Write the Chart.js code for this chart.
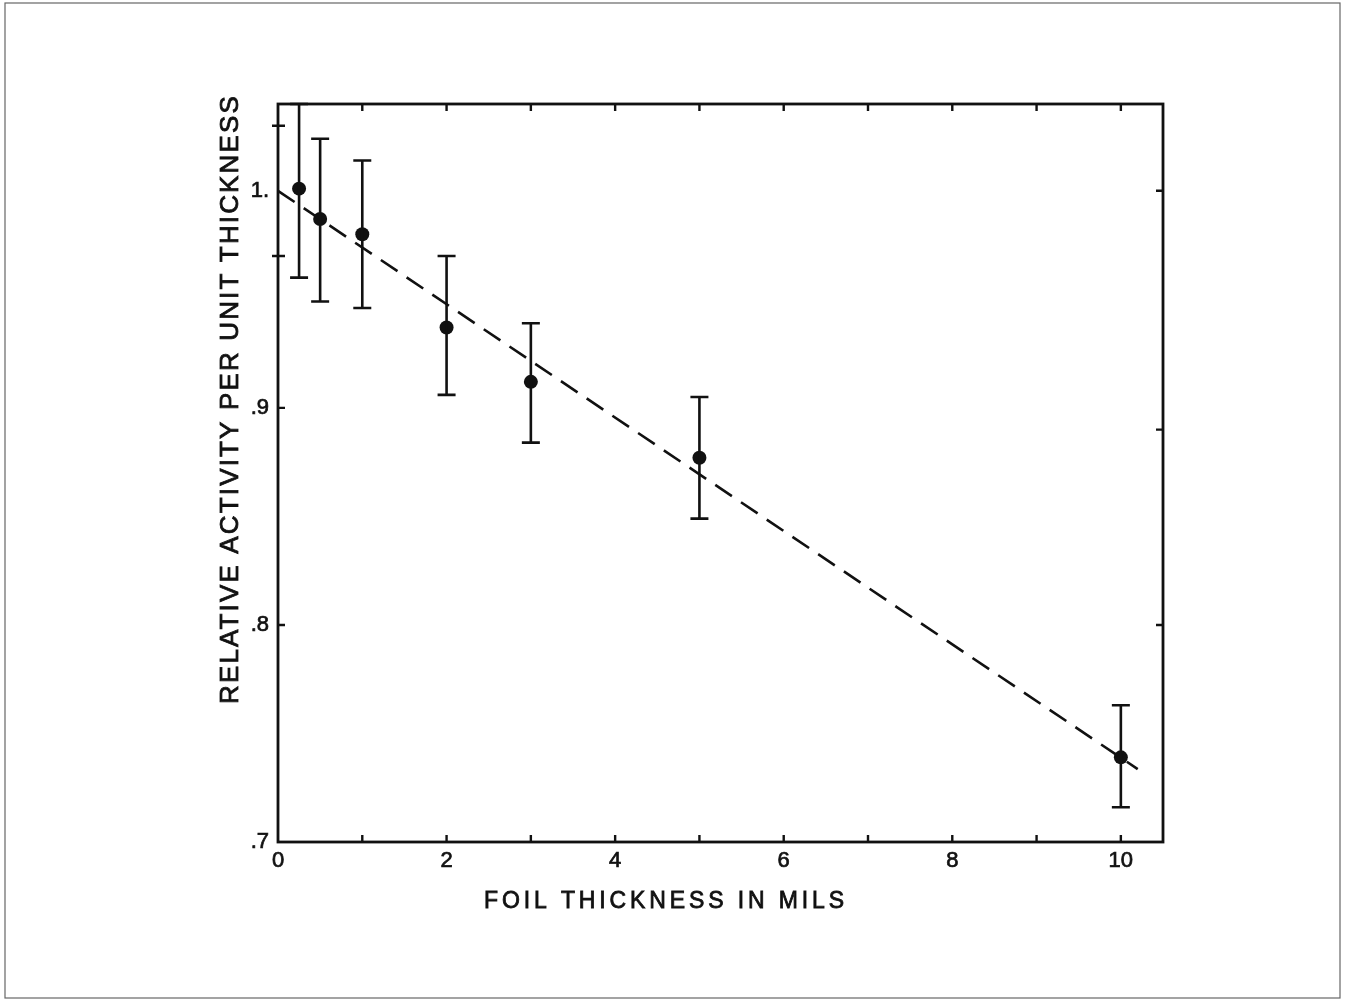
<!DOCTYPE html>
<html>
<head>
<meta charset="utf-8">
<script src="https://cdn.jsdelivr.net/npm/chart.js@4.4.1/dist/chart.umd.min.js"></script>
<style>
  html, body { margin: 0; padding: 0; background: #ffffff; }
  canvas { display: block; }
</style>
</head>
<body>
<canvas id="foil-chart" width="1357" height="1002"></canvas>
<script>
// Measured points (foil thickness in mils vs relative activity)
const thicknessMils = [0.25, 0.5, 1, 2, 3, 5, 10];
const relActivity = [1.001, 0.987, 0.980, 0.937, 0.912, 0.877, 0.739];
const errHigh = [1.040, 1.024, 1.014, 0.970, 0.939, 0.905, 0.763];
const errLow = [0.960, 0.949, 0.946, 0.906, 0.884, 0.849, 0.716];

// Dashed fit line end points
const fitX = [0, 10.2];
const fitY = [1.0, 0.7336];

// Axis ticks and labels
const xLabelValues = [0, 2, 4, 6, 8, 10];
const xMinorTicks = [1, 2, 3, 4, 5, 6, 7, 8, 9, 10];
const yLabelValues = [0.7, 0.8, 0.9, 1.0];
const yTickLabels = [".7", ".8", ".9", "1."];
const yLeftTicks = [0.8, 0.9];
const yCrossTicks = [0.97, 1.03];
const yRightTicks = [0.8, 0.89, 1.0];

const xTitle = "FOIL THICKNESS IN MILS";
const yTitle = "RELATIVE ACTIVITY PER UNIT THICKNESS";

const INK = "#111111";
const FONT = "'Liberation Sans', Arial, sans-serif";

// draw text with letter spacing so it fills a given width
function spacedText(ctx, text, size, width, x, y, rotate) {
  ctx.save();
  ctx.font = size + "px " + FONT;
  ctx.letterSpacing = "0px";
  const w = ctx.measureText(text).width;
  const spacing = (width - w) / (text.length - 1);
  ctx.letterSpacing = spacing.toFixed(2) + "px";
  ctx.translate(x, y);
  if (rotate) ctx.rotate(-Math.PI / 2);
  ctx.fillStyle = INK;
  ctx.strokeStyle = INK;
  ctx.lineWidth = 0.8;
  ctx.textBaseline = "middle";
  ctx.textAlign = "left";
  ctx.fillText(text, -width / 2, 0);
  ctx.strokeText(text, -width / 2, 0);
  ctx.restore();
}

const plotDecor = {
  id: "plotDecor",
  beforeDraw(chart) {
    const ctx = chart.ctx;
    // scanned page edge
    ctx.save();
    ctx.strokeStyle = "#666666";
    ctx.lineWidth = 1.2;
    ctx.strokeRect(5, 3, 1335, 995);
    ctx.restore();
  },
  afterDatasetsDraw(chart) {
    const ctx = chart.ctx;
    const xs = chart.scales.x;
    const ys = chart.scales.y;
    const a = chart.chartArea;

    ctx.save();
    ctx.strokeStyle = INK;
    ctx.lineCap = "butt";

    // error bars
    ctx.lineWidth = 2.6;
    for (let i = 0; i < thicknessMils.length; i++) {
      const px = xs.getPixelForValue(thicknessMils[i]);
      const top = ys.getPixelForValue(errHigh[i]);
      const bot = ys.getPixelForValue(errLow[i]);
      ctx.beginPath();
      ctx.moveTo(px, top);
      ctx.lineTo(px, bot);
      ctx.moveTo(px - 9, top);
      ctx.lineTo(px + 9, top);
      ctx.moveTo(px - 9, bot);
      ctx.lineTo(px + 9, bot);
      ctx.stroke();
    }

    // frame
    ctx.lineWidth = 2.8;
    ctx.strokeRect(a.left, a.top, a.right - a.left, a.bottom - a.top);

    // inward tick marks
    ctx.lineWidth = 2.4;
    ctx.beginPath();
    xMinorTicks.forEach((v) => {
      const px = xs.getPixelForValue(v);
      ctx.moveTo(px, a.bottom);
      ctx.lineTo(px, a.bottom - 7);
      ctx.moveTo(px, a.top);
      ctx.lineTo(px, a.top + 7);
    });
    yLeftTicks.forEach((v) => {
      const py = ys.getPixelForValue(v);
      ctx.moveTo(a.left, py);
      ctx.lineTo(a.left + 7, py);
    });
    yCrossTicks.forEach((v) => {
      const py = ys.getPixelForValue(v);
      ctx.moveTo(a.left - 6, py);
      ctx.lineTo(a.left + 7, py);
    });
    yRightTicks.forEach((v) => {
      const py = ys.getPixelForValue(v);
      ctx.moveTo(a.right, py);
      ctx.lineTo(a.right - 7, py);
    });
    ctx.stroke();
    ctx.restore();

    // axis titles
    spacedText(ctx, xTitle, 23, 360, 664, 902, false);
    spacedText(ctx, yTitle, 26, 608, 231, 400, true);
  },
};

const ctx = document.getElementById("foil-chart").getContext("2d");
new Chart(ctx, {
  type: "scatter",
  data: {
    datasets: [
      {
        label: "fit",
        data: fitX.map((x, i) => ({ x: x, y: fitY[i] })),
        showLine: true,
        borderColor: INK,
        borderWidth: 2.6,
        borderDash: [20, 11],
        pointRadius: 0,
        fill: false,
      },
      {
        label: "measured",
        data: thicknessMils.map((x, i) => ({ x: x, y: relActivity[i] })),
        backgroundColor: INK,
        borderColor: INK,
        borderWidth: 0,
        pointRadius: 7,
      },
    ],
  },
  options: {
    responsive: false,
    devicePixelRatio: 1,
    animation: false,
    layout: {
      padding: { left: 0, top: 104, right: 194, bottom: 0 },
    },
    plugins: {
      legend: { display: false },
      tooltip: { enabled: false },
    },
    scales: {
      x: {
        type: "linear",
        min: 0,
        max: 10.5,
        grid: { display: false, drawTicks: false },
        border: { display: false },
        afterBuildTicks: (scale) => {
          scale.ticks = xLabelValues.map((v) => ({ value: v }));
        },
        afterFit: (scale) => {
          scale.height = 160;
        },
        ticks: {
          color: INK,
          padding: 6,
          textStrokeColor: INK,
          textStrokeWidth: 0.7,
          font: { family: FONT, size: 22 },
          callback: (value) => String(value),
        },
      },
      y: {
        type: "linear",
        min: 0.7,
        max: 1.04,
        grid: { display: false, drawTicks: false },
        border: { display: false },
        afterBuildTicks: (scale) => {
          scale.ticks = yLabelValues.map((v) => ({ value: v }));
        },
        afterFit: (scale) => {
          scale.width = 278;
        },
        ticks: {
          color: INK,
          padding: 9,
          textStrokeColor: INK,
          textStrokeWidth: 0.7,
          font: { family: FONT, size: 22 },
          callback: (value, index) => yTickLabels[index],
        },
      },
    },
  },
  plugins: [plotDecor],
});
</script>
</body>
</html>
